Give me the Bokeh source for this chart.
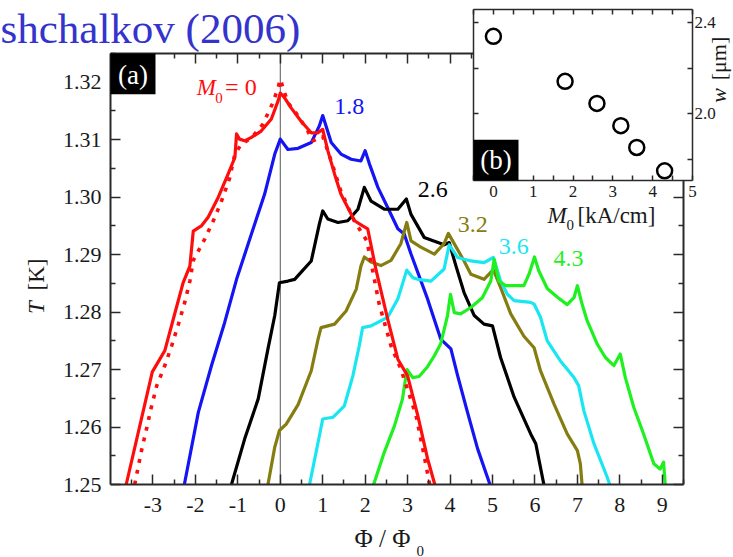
import math
from bokeh.plotting import figure
from bokeh.models import (Range1d, LinearAxis, FixedTicker, PrintfTickFormatter,
                          CustomJSTickFormatter, Label, BoxAnnotation, ColumnDataSource)
from bokeh.embed import file_html
from bokeh.resources import INLINE
from bokeh.core.properties import value

SERIF = "Liberation Serif"
W, H = 733, 557

# ---- main panel (a): T versus flux, one curve per M0 [kA/cm] ----
m0_0_phi = [-3.63, -3.015, -2.72, -2.52, -2.29, -2.13, -2.05, -1.86, -1.70, -1.46, -1.23, -1.07,
            -1.03, -0.96, -0.84, -0.68, -0.45, -0.21, -0.05, 0.0, 0.10, 0.26, 0.49, 0.73, 0.88,
            1.0, 1.12, 1.28, 1.43, 1.59, 1.75, 1.94, 2.06, 2.18, 2.26, 2.53, 2.77, 3.0, 3.24,
            3.47, 3.64]
m0_0_T = [1.2500, 1.2696, 1.2733, 1.2788, 1.2851, 1.2880, 1.2941, 1.2950, 1.2965, 1.3000, 1.3040,
          1.3069, 1.3110, 1.3101, 1.3098, 1.3104, 1.3115, 1.3136, 1.3168, 1.3181, 1.3173, 1.3155,
          1.3132, 1.3112, 1.3112, 1.3118, 1.3081, 1.3040, 1.3005, 1.2982, 1.2959, 1.2950, 1.2945,
          1.2901, 1.2872, 1.2788, 1.2718, 1.2689, 1.2620, 1.2545, 1.2500]

# M0 = 0, second (dotted) curve
m0_0b_phi = [-3.43, -3.27, -3.15, -3.05, -2.91, -2.72, -2.56, -2.40, -2.25, -2.13, -2.05, -1.78,
             -1.54, -1.35, -1.19, -1.07, -0.92, -0.68, -0.41, -0.17, -0.05, 0.0, 0.18, 0.34,
             0.65, 0.77, 1.0, 1.2, 1.43, 1.74, 2.04, 2.33, 2.61, 2.84, 3.2, 3.39, 3.52]
m0_0b_T = [1.2500, 1.2559, 1.2597, 1.2631, 1.2672, 1.2707, 1.2741, 1.2779, 1.2817, 1.2854, 1.2890,
           1.2927, 1.2965, 1.3000, 1.3034, 1.3075, 1.3092, 1.3103, 1.3127, 1.3165, 1.3191, 1.3205,
           1.3164, 1.3150, 1.3115, 1.3098, 1.3106, 1.3063, 1.3010, 1.2959, 1.2924, 1.2814, 1.2741,
           1.2701, 1.2620, 1.2550, 1.2500]

m0_18_phi = [-2.26, -1.93, -1.62, -1.31, -1.03, -0.68, -0.37, -0.13, 0.0, 0.18, 0.42, 0.73, 0.92,
             1.0, 1.2, 1.43, 1.67, 1.90, 2.0, 2.1, 2.30, 2.53, 2.77, 2.92, 3.08, 3.47, 3.78, 4.02,
             4.18, 4.41, 4.65, 4.94]
m0_18_T = [1.2500, 1.2626, 1.2707, 1.2782, 1.2857, 1.2936, 1.3005, 1.3075, 1.3101, 1.3083, 1.3085,
           1.3095, 1.3124, 1.3142, 1.3095, 1.3075, 1.3066, 1.3063, 1.3081, 1.3058, 1.3017, 1.2982,
           1.2945, 1.2936, 1.2901, 1.2823, 1.2753, 1.2736, 1.2689, 1.2626, 1.2562, 1.2500]

m0_26_phi = [-1.15, -0.84, -0.52, -0.29, -0.13, -0.02, 0.18, 0.34, 0.45, 0.73, 0.92, 1.0, 1.12,
             1.36, 1.59, 1.83, 1.98, 2.14, 2.45, 2.77, 2.97, 3.08, 3.39, 3.86, 3.98, 4.14, 4.33,
             4.57, 4.80, 5.0, 5.19, 5.51, 5.90, 6.02, 6.21]
m0_26_T = [1.2500, 1.2579, 1.2649, 1.2736, 1.2794, 1.2851, 1.2854, 1.2857, 1.2866, 1.2889, 1.2953,
           1.2976, 1.2962, 1.2956, 1.2959, 1.2979, 1.3017, 1.2993, 1.2979, 1.2979, 1.2997, 1.2970,
           1.2930, 1.2917, 1.2921, 1.2880, 1.2834, 1.2794, 1.2779, 1.2776, 1.2721, 1.2652, 1.2588,
           1.2571, 1.2500]

m0_32_phi = [-0.29, -0.13, -0.02, 0.14, 0.42, 0.73, 0.89, 0.96, 1.28, 1.55, 1.79, 1.90, 1.98,
             2.14, 2.37, 2.61, 2.84, 2.98, 3.08, 3.31, 3.63, 3.86, 3.96, 4.33, 4.49, 4.80, 5.02,
             5.19, 5.43, 5.74, 5.98, 6.13, 6.45, 6.76, 7.0, 7.07, 7.11]
m0_32_T = [1.2500, 1.2565, 1.2594, 1.2605, 1.2639, 1.2698, 1.2753, 1.2773, 1.2779, 1.2802, 1.2840,
           1.2880, 1.2896, 1.2887, 1.2881, 1.2890, 1.2919, 1.2956, 1.2924, 1.2913, 1.2901, 1.2919,
           1.2937, 1.2889, 1.2866, 1.2857, 1.2874, 1.2843, 1.2797, 1.2758, 1.2738, 1.2698, 1.2640,
           1.2588, 1.2559, 1.2536, 1.2500]

m0_36_phi = [0.69, 0.89, 1.0, 1.24, 1.51, 1.71, 1.86, 1.94, 2.14, 2.53, 2.77, 2.98, 3.12, 3.24,
             3.55, 3.86, 3.98, 4.18, 4.49, 4.80, 5.02, 5.19, 5.35, 5.51, 5.90, 5.98, 6.13, 6.29,
             6.60, 6.92, 7.03, 7.15, 7.39, 7.70, 7.76]
m0_36_T = [1.2500, 1.2573, 1.2614, 1.2617, 1.2637, 1.2689, 1.2741, 1.2773, 1.2776, 1.2791, 1.2823,
           1.2873, 1.2860, 1.2857, 1.2854, 1.2875, 1.2917, 1.2895, 1.2889, 1.2886, 1.2895, 1.2854,
           1.2831, 1.2820, 1.2817, 1.2814, 1.2791, 1.2750, 1.2715, 1.2686, 1.2672, 1.2629, 1.2571,
           1.2513, 1.2500]

m0_43_phi = [2.20, 2.45, 2.69, 2.88, 2.96, 2.99, 3.12, 3.27, 3.47, 3.63, 3.78, 3.94, 4.01, 4.10,
             4.25, 4.49, 4.76, 4.96, 5.04, 5.15, 5.31, 5.51, 5.74, 5.86, 5.99, 6.09, 6.29, 6.53,
             6.76, 6.92, 7.0, 7.11, 7.23, 7.47, 7.66, 7.86, 8.01, 8.13, 8.33, 8.56, 8.80, 8.95,
             9.03, 9.07]
m0_43_T = [1.2500, 1.2556, 1.2602, 1.2649, 1.2689, 1.2700, 1.2686, 1.2688, 1.2705, 1.2724, 1.2745,
           1.2794, 1.2831, 1.2799, 1.2797, 1.2808, 1.2825, 1.2854, 1.2892, 1.2854, 1.2846, 1.2846,
           1.2846, 1.2866, 1.2896, 1.2872, 1.2841, 1.2826, 1.2813, 1.2825, 1.2846, 1.2814, 1.2785,
           1.2744, 1.2721, 1.2707, 1.2727, 1.2686, 1.2634, 1.2588, 1.2536, 1.2527, 1.2539, 1.2500]

# curve label anchors (left edge, vertical middle) and the M0 values they name
label_m0 = [1.8, 2.6, 3.2, 3.6, 4.3]
label_phi = [1.27, 3.24, 4.18, 5.15, 6.44]
label_T = [1.3157, 1.3014, 1.2953, 1.2915, 1.2893]

RED, BLUE, BLACK, OLIVE, CYAN, GREEN = "#ff0d0d", "#1414f5", "#000000", "#857d10", "#1ae6f2", "#1ff01f"
label_colors = [BLUE, BLACK, OLIVE, CYAN, GREEN]

# main axes: limits and ticks
X_LO, X_HI = -4.0, 9.5
Y_LO, Y_HI = 1.25, 1.325
x_major = list(range(-3, 10))
x_minor = [v + 0.5 for v in range(-4, 10)]
y_major = [1.25, 1.26, 1.27, 1.28, 1.29, 1.30, 1.31, 1.32]
y_minor = [1.255, 1.265, 1.275, 1.285, 1.295, 1.305, 1.315, 1.325]

# ---- inset (b): w versus M0 ----
inset_m0 = [0.0, 1.8, 2.6, 3.2, 3.6, 4.3]
inset_w = [2.338, 2.142, 2.046, 1.949, 1.854, 1.752]
IX_LO, IX_HI = -0.5, 5.0
IY_LO, IY_HI = 1.71, 2.455
inset_x_major = [0, 1, 2, 3, 4, 5]
inset_x_minor = [-0.5, 0.5, 1.5, 2.5, 3.5, 4.5]
inset_y_major = [2.0, 2.4]
inset_y_minor = [1.8, 2.2]

# pixel boxes of the two plot areas on the canvas (left, right, top, bottom)
MAIN_BOX = (110, 683, 53, 484)
INSET_BOX = (473, 692, 9, 180)

AXIS_COLOR = "#2a2a2a"
TEXT_COLOR = "#1a1a1a"


def canvas_range(lo, hi, px_lo, px_hi, size):
    """Range spanning the whole canvas so that lo/hi fall on the given pixels."""
    per_px = (hi - lo) / (px_hi - px_lo)
    return Range1d(lo - px_lo * per_px, hi + (size - px_hi) * per_px)


def frame_axis(fig, side, ticks, minor, loc, bounds, major_len, minor_len, line_w,
               fmt=None, font_size="22px", standoff=8, **names):
    ax = LinearAxis(ticker=FixedTicker(ticks=ticks, minor_ticks=minor),
                    fixed_location=loc, bounds=bounds, **names)
    ax.major_tick_in = major_len
    ax.major_tick_out = 0
    ax.minor_tick_in = minor_len
    ax.minor_tick_out = 0
    ax.axis_line_width = line_w
    ax.axis_line_color = AXIS_COLOR
    ax.major_tick_line_color = AXIS_COLOR
    ax.minor_tick_line_color = AXIS_COLOR
    ax.major_tick_line_width = 1.5
    ax.minor_tick_line_width = 1.5
    if fmt is None:
        ax.formatter = CustomJSTickFormatter(code="return ''")
        ax.major_label_standoff = 0
    else:
        ax.formatter = fmt
        ax.major_label_text_font = SERIF
        ax.major_label_text_font_size = font_size
        ax.major_label_text_color = TEXT_COLOR
        ax.major_label_standoff = standoff
    fig.add_layout(ax, side)
    return ax


def canvas_text(fig, x, y, text, size, color=TEXT_COLOR, style="normal", angle=0.0,
                align="left", baseline="middle", level="annotation"):
    fig.add_layout(Label(x=x, y=y, x_units="canvas", y_units="canvas", text=text, angle=angle,
                         text_font=SERIF, text_font_style=style, text_font_size=size,
                         text_color=color, text_align=align, text_baseline=baseline,
                         level=level))


ml, mr, mt, mb = MAIN_BOX
il, ir, it, ib = INSET_BOX

p = figure(width=W, height=H, min_border=0,
           x_range=canvas_range(X_LO, X_HI, ml, mr, W),
           y_range=canvas_range(Y_LO, Y_HI, H - mb, H - mt, H),
           x_axis_location=None, y_axis_location=None,
           output_backend="svg", toolbar_location=None, tools="",
           background_fill_color="white", border_fill_color="white", outline_line_color=None)
p.grid.visible = False
p.extra_x_ranges = {"ix": canvas_range(IX_LO, IX_HI, il, ir, W)}
p.extra_y_ranges = {"iy": canvas_range(IY_LO, IY_HI, H - ib, H - it, H)}

# main frame axes (ticks pointing inwards, labels on bottom and left)
frame_axis(p, "below", x_major, x_minor, Y_LO, (X_LO, X_HI), 10, 5, 2,
           PrintfTickFormatter(format="%d"), "22px", 13)
frame_axis(p, "left", y_major, y_minor, X_LO, (Y_LO, Y_HI), 10, 5, 2,
           PrintfTickFormatter(format="%.2f"), "22px", 9)
frame_axis(p, "above", x_major, x_minor, Y_HI, (X_LO, X_HI), 10, 5, 2)
frame_axis(p, "right", y_major, y_minor, X_HI, (Y_LO, Y_HI), 10, 5, 2)

# thin line at zero flux
p.line([0, 0], [Y_LO, Y_HI], line_color="#555555", line_width=1)

for xs, ys, col in [(m0_18_phi, m0_18_T, BLUE), (m0_26_phi, m0_26_T, BLACK),
                    (m0_32_phi, m0_32_T, OLIVE), (m0_36_phi, m0_36_T, CYAN),
                    (m0_43_phi, m0_43_T, GREEN)]:
    p.line(xs, ys, line_color=col, line_width=3.2, line_join="round")
p.line(m0_0b_phi, m0_0b_T, line_color=RED, line_width=3.6, line_dash="4 7")
p.line(m0_0_phi, m0_0_T, line_color=RED, line_width=3.2, line_join="round")

# curve labels
lab = ColumnDataSource(dict(x=label_phi, y=label_T, text=[f"{v}" for v in label_m0],
                            color=label_colors))
p.text(x="x", y="y", text="text", text_color="color", source=lab,
       text_font=value(SERIF), text_font_size=value("24px"),
       text_align="left", text_baseline="middle")
p.text(x=[-1.97], y=[1.3191], text=["M"], text_color=RED, text_font=value(SERIF),
       text_font_style="italic", text_font_size=value("23px"),
       text_align="left", text_baseline="middle")
p.text(x=[-1.53], y=[1.3172], text=["0"], text_color=RED, text_font=value(SERIF),
       text_font_size=value("15px"), text_align="left", text_baseline="middle")
p.text(x=[-1.30], y=[1.3191], text=["= 0"], text_color=RED, text_font=value(SERIF),
       text_font_size=value("24px"), text_align="left", text_baseline="middle")

# panel tag (a)
p.add_layout(BoxAnnotation(left=X_LO, right=-2.94, bottom=1.3179, top=Y_HI,
                           fill_color="black", fill_alpha=1.0, line_color=None))
p.add_layout(Label(x=-3.47, y=1.3213, text="(a)", text_color="white", text_font=SERIF,
                   text_font_size="27px", text_align="center", text_baseline="middle"))

# axis titles of panel (a)
canvas_text(p, 36, 307, "T", "23px", style="italic", angle=math.pi / 2, align="center")
canvas_text(p, 36, 274, "[K]", "23px", angle=math.pi / 2, align="center")
canvas_text(p, 354, 538, "Φ / Φ", "25px")
canvas_text(p, 416, 550, "0", "15px")

# heading
canvas_text(p, 0, 28, "shchalkov (2006)", "43px", color="#3434cc", baseline="alphabetic")

# ---- inset (b), drawn on its own ranges ----
p.add_layout(BoxAnnotation(left=IX_LO, right=IX_HI, bottom=IY_LO, top=IY_HI,
                           x_range_name="ix", y_range_name="iy",
                           fill_color="white", fill_alpha=1.0, line_color=None))
inames = dict(x_range_name="ix", y_range_name="iy", level="overlay")
frame_axis(p, "below", inset_x_major, inset_x_minor, IY_LO, (IX_LO, IX_HI), 5, 5, 1.5,
           PrintfTickFormatter(format="%d"), "17px", 5, **inames)
frame_axis(p, "right", inset_y_major, inset_y_minor, IX_HI, (IY_LO, IY_HI), 5, 5, 1.5,
           PrintfTickFormatter(format="%.1f"), "17px", 2, **inames)
frame_axis(p, "above", inset_x_major, inset_x_minor, IY_HI, (IX_LO, IX_HI), 5, 5, 1.5, **inames)
frame_axis(p, "left", inset_y_major, inset_y_minor, IX_LO, (IY_LO, IY_HI), 5, 5, 1.5, **inames)

p.scatter(inset_m0, inset_w, marker="circle", size=15, line_color="black", line_width=2.5,
          fill_color="white", x_range_name="ix", y_range_name="iy", level="overlay")

p.add_layout(BoxAnnotation(left=IX_LO, right=0.63, bottom=IY_LO, top=1.888,
                           x_range_name="ix", y_range_name="iy", level="overlay",
                           fill_color="black", fill_alpha=1.0, line_color=None))
p.add_layout(Label(x=0.065, y=1.799, x_range_name="ix", y_range_name="iy", level="overlay",
                   text="(b)", text_color="white", text_font=SERIF, text_font_size="27px",
                   text_align="center", text_baseline="middle"))

canvas_text(p, 547, 215, "M", "23px", style="italic", level="overlay")
canvas_text(p, 566, 224, "0", "15px", level="overlay")
canvas_text(p, 577, 215, "[kA/cm]", "23px", level="overlay")
canvas_text(p, 718, 95, "w", "22px", style="italic", angle=math.pi / 2, align="center",
            level="overlay")
canvas_text(p, 718, 58, "[μm]", "22px", angle=math.pi / 2, align="center", level="overlay")

open("out.html", "w").write(file_html(p, INLINE))
